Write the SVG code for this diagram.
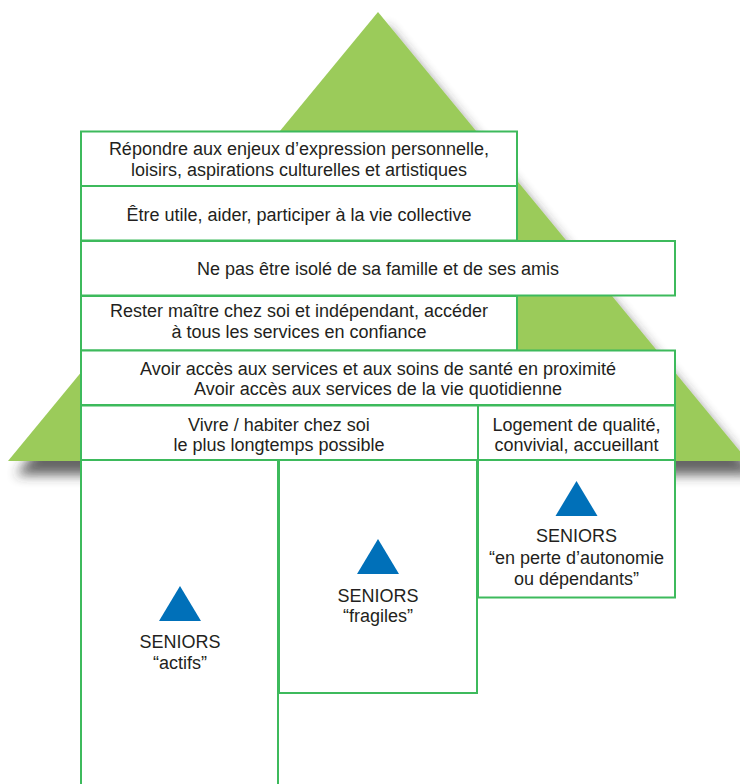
<svg xmlns="http://www.w3.org/2000/svg" width="740" height="784" viewBox="0 0 740 784">
<defs>
<filter id="shadow" x="-10%" y="-10%" width="130%" height="130%">
<feGaussianBlur in="SourceAlpha" stdDeviation="6"/>
<feOffset dx="8" dy="14" result="b"/>
<feComponentTransfer in="b" result="s"><feFuncA type="linear" slope="0.75"/></feComponentTransfer>
<feFlood flood-color="#333333"/>
<feComposite in2="s" operator="in" result="sh"/>
<feMerge><feMergeNode in="sh"/><feMergeNode in="SourceGraphic"/></feMerge>
</filter>
</defs>
<style>
.box{fill:#ffffff;stroke:#3dba5c;stroke-width:2}
.t{font-family:"Liberation Sans",Arial,sans-serif;font-size:18px;fill:#231f20;text-anchor:middle}
.tri{fill:#0070b9}
</style>
<rect x="0" y="0" width="740" height="784" fill="#ffffff"/>
<g id="roof">
<polygon points="378,12 8,461 748,461" fill="#9bcb5a" filter="url(#shadow)"/>
</g>
<g id="n1"><rect class="box" x="81" y="131.5" width="436" height="54.5"/>
<text class="t" x="299" y="154.5">Répondre aux enjeux d’expression personnelle,</text>
<text class="t" x="299" y="175.5">loisirs, aspirations culturelles et artistiques</text></g>
<g id="n2"><rect class="box" x="81" y="186" width="436" height="54.5"/>
<text class="t" x="299" y="220.5">Être utile, aider, participer à la vie collective</text></g>
<g id="n3"><rect class="box" x="81" y="241" width="594" height="54.5"/>
<text class="t" x="378" y="275">Ne pas être isolé de sa famille et de ses amis</text></g>
<g id="n4"><rect class="box" x="81" y="296" width="436" height="54.5"/>
<text class="t" x="299" y="317">Rester maître chez soi et indépendant, accéder</text>
<text class="t" x="299" y="338">à tous les services en confiance</text></g>
<g id="n5"><rect class="box" x="81" y="350.5" width="594" height="54.5"/>
<text class="t" x="378" y="374.5">Avoir accès aux services et aux soins de santé en proximité</text>
<text class="t" x="378" y="395">Avoir accès aux services de la vie quotidienne</text></g>
<g id="n6"><rect class="box" x="81" y="405.5" width="397" height="54.5"/>
<text class="t" x="279" y="430.5">Vivre / habiter chez soi</text>
<text class="t" x="279" y="451">le plus longtemps possible</text></g>
<g id="n7"><rect class="box" x="478" y="405.5" width="197" height="54.5"/>
<text class="t" x="576.5" y="430.5">Logement de qualité,</text>
<text class="t" x="576.5" y="451">convivial, accueillant</text></g>
<g id="c1"><rect class="box" x="81" y="460" width="197" height="330"/>
<polygon class="tri" points="180,586 159,621 201,621"/>
<text class="t" x="180" y="648">SENIORS</text>
<text class="t" x="180" y="669">“actifs”</text></g>
<g id="c2"><rect class="box" x="279" y="460" width="198" height="233"/>
<polygon class="tri" points="378,539 357,574 399,574"/>
<text class="t" x="378" y="601.5">SENIORS</text>
<text class="t" x="378" y="622">“fragiles”</text></g>
<g id="c3"><rect class="box" x="478" y="460" width="197" height="137.5"/>
<polygon class="tri" points="576.5,481 555.5,516 597.5,516"/>
<text class="t" x="576.5" y="542">SENIORS</text>
<text class="t" x="576.5" y="563.5">“en perte d’autonomie</text>
<text class="t" x="576.5" y="585">ou dépendants”</text></g>
<g id="connectors"/>
</svg>
